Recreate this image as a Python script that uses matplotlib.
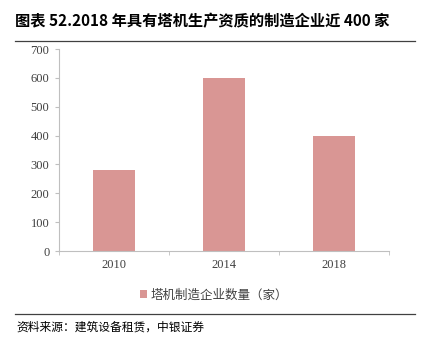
import matplotlib
matplotlib.use('Agg')
import matplotlib.pyplot as plt
from matplotlib.lines import Line2D

# Data
YEARS = ['2010', '2014', '2018']
COUNTS = [280, 600, 400]
TITLE = '图表 52.2018 年具有塔机生产资质的制造企业近 400 家'
SERIES_NAME = '塔机制造企业数量（家）'
SOURCE = '资料来源：建筑设备租赁，中银证券'

BAR_COLOUR = '#D99694'
AXIS_COLOUR = '#BFBFBF'
CJK = ['Noto Sans CJK SC', 'DejaVu Sans']
SERIF = ['Liberation Serif', 'DejaVu Serif']

FIG = plt.figure(figsize=(4.25, 3.48), dpi=100)
AX = FIG.add_axes([59 / 425, 1 - 251 / 348, 330 / 425, 202 / 348])

positions = range(len(YEARS))
AX.bar(positions, COUNTS, width=0.39, color=BAR_COLOUR, label=SERIES_NAME)

AX.set_xlim(-0.5, len(YEARS) - 0.5)
AX.set_ylim(0, 700)
AX.set_yticks(range(0, 701, 100))
AX.set_xticks(list(positions))
AX.set_xticklabels(YEARS, fontfamily=SERIF, fontsize=9, color='#404040')
for lab in AX.get_yticklabels():
    lab.set_fontfamily(SERIF)
    lab.set_fontsize(9)
    lab.set_color('#404040')

# category boundary ticks on the x axis
AX.set_xticks([p - 0.5 for p in range(len(YEARS) + 1)], minor=True)
AX.tick_params(axis='x', which='major', length=0, pad=6)
AX.tick_params(axis='x', which='minor', length=3, color=AXIS_COLOUR)
AX.tick_params(axis='y', length=3, color=AXIS_COLOUR, pad=4)

for side in ['top', 'right']:
    AX.spines[side].set_visible(False)
for side in ['left', 'bottom']:
    AX.spines[side].set_color(AXIS_COLOUR)
    AX.spines[side].set_linewidth(0.8)

LEG = AX.legend(loc='upper center', bbox_to_anchor=(0.5 - 0.03, -0.13),
                frameon=False, prop={'family': CJK, 'size': 9},
                handlelength=0.6, handleheight=0.6, handletextpad=0.3)
for txt in LEG.get_texts():
    txt.set_color('#404040')

# title, rules and source note
FIG.text(15 / 425, 1 - 21 / 348, TITLE, fontfamily=CJK, fontweight='bold',
         fontsize=11, va='center', ha='left')
FIG.add_artist(Line2D([15 / 425, 415 / 425], [1 - 41 / 348, 1 - 41 / 348],
                      color='#404040', linewidth=0.9))
FIG.add_artist(Line2D([15 / 425, 415 / 425], [1 - 314 / 348, 1 - 314 / 348],
                      color='#404040', linewidth=0.9))
FIG.text(16 / 425, 1 - 327 / 348, SOURCE, fontfamily=CJK, fontstyle='italic',
         fontsize=8.5, va='center', ha='left')

FIG.savefig('out.png', dpi=100)
